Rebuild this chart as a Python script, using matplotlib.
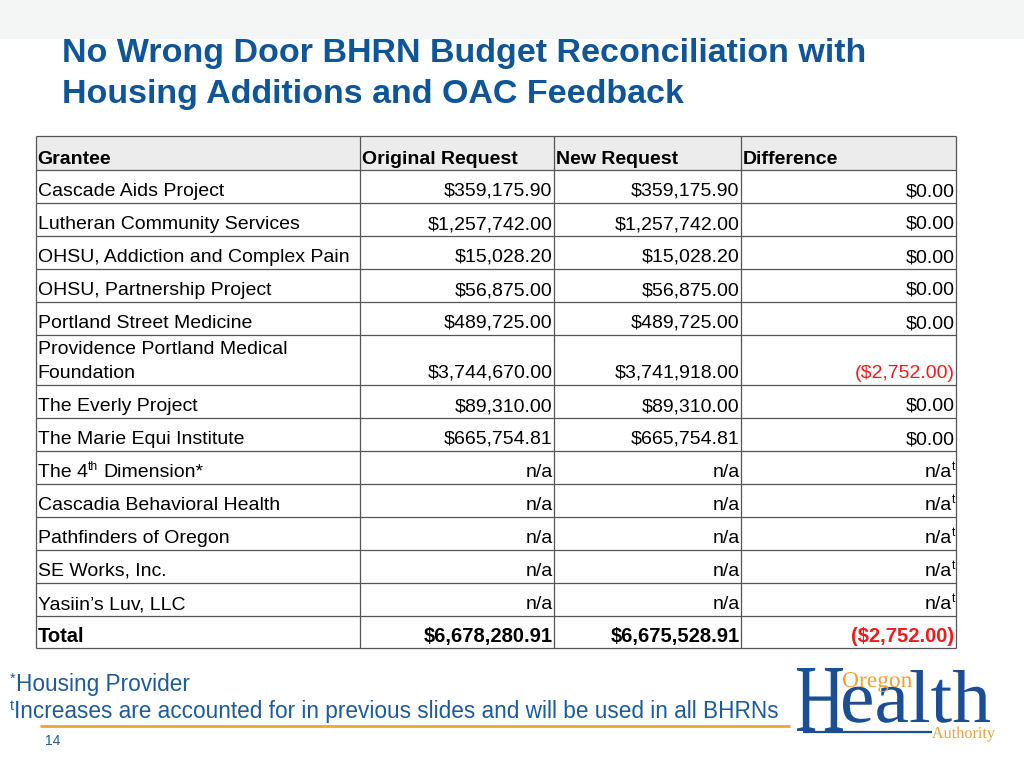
import re
import matplotlib
matplotlib.use('Agg')
import matplotlib.pyplot as plt
from matplotlib import font_manager
from matplotlib.textpath import TextPath
from matplotlib.patches import PathPatch, Rectangle
from matplotlib.transforms import Affine2D

# table content ({..} marks a superscript)
headers = ["Grantee", "Original Request", "New Request", "Difference"]
grantees = ["Cascade Aids Project", "Lutheran Community Services",
            "OHSU, Addiction and Complex Pain", "OHSU, Partnership Project",
            "Portland Street Medicine", "Providence Portland Medical\nFoundation",
            "The Everly Project", "The Marie Equi Institute",
            "The 4{th} Dimension*", "Cascadia Behavioral Health",
            "Pathfinders of Oregon", "SE Works, Inc.", "Yasiin\u2019s Luv, LLC"]
original = [359175.90, 1257742.00, 15028.20, 56875.00, 489725.00, 3744670.00,
            89310.00, 665754.81, None, None, None, None, None]
new_request = [359175.90, 1257742.00, 15028.20, 56875.00, 489725.00, 3741918.00,
               89310.00, 665754.81, None, None, None, None, None]
difference = [0.00, 0.00, 0.00, 0.00, 0.00, -2752.00,
              0.00, 0.00, None, None, None, None, None]
total_label = "Total"
totals = [6678280.91, 6675528.91, -2752.00]

title_lines = ["No Wrong Door BHRN Budget Reconciliation with",
               "Housing Additions and OAC Feedback"]
notes = ["{*}Housing Provider",
         "{t}Increases are accounted for in previous slides and will be used in all BHRNs"]
page_no = "14"

BLUE = '#0f5597'
NOTE_BLUE = '#1d5b9b'
RED = '#ee1c1c'
LINE = '#555555'

plt.rcParams['font.family'] = ['Liberation Sans', 'DejaVu Sans']


def money(v):
    if v < 0:
        return f"(${-v:,.2f})"
    return f"${v:,.2f}"


fig = plt.figure(figsize=(10.24, 7.68), dpi=100)
ax = fig.add_axes([0, 0, 1, 1])
ax.set_xlim(0, 1024)
ax.set_ylim(768, 0)
ax.axis('off')
renderer = fig.canvas.get_renderer()


def rich(x, y, s, size, ha='left', **kw):
    # draws text with {..} superscripts; x/y in pixels, y is the baseline
    parts = re.split(r'\{(.*?)\}', s)
    em = size * 100 / 72
    items = [(p, i % 2 == 1) for i, p in enumerate(parts) if p]
    if ha == 'right':
        items = items[::-1]
    for p, sup in items:
        fs = size * 0.62 if sup else size
        yy = y - 0.36 * em if sup else y
        lead = len(p) - len(p.lstrip(' '))
        trail = len(p) - len(p.rstrip(' '))
        p = p.strip(' ')
        if ha == 'left':
            x += lead * 0.278 * fs * 100 / 72
            t = ax.text(x, yy, p, fontsize=fs, ha='left', va='baseline', **kw)
            x = t.get_window_extent(renderer).x1 + trail * 0.278 * fs * 100 / 72
        else:
            x -= trail * 0.278 * fs * 100 / 72
            t = ax.text(x, yy, p, fontsize=fs, ha='right', va='baseline', **kw)
            x = t.get_window_extent(renderer).x0 - lead * 0.278 * fs * 100 / 72


def fitted_text(s, x0, x1, base, height, ref, family, color):
    # text path squeezed to a width and to the height of a reference glyph (logo)
    fp = font_manager.FontProperties(family=family)
    tp = TextPath((0, 0), s, size=1, prop=fp)
    top = TextPath((0, 0), ref, size=1, prop=fp).get_extents().y1
    ext = tp.get_extents()
    sx = (x1 - x0) / ext.width
    sy = height / top
    tr = Affine2D().translate(-ext.x0, 0).scale(sx, -sy).translate(x0, base) + ax.transData
    ax.add_patch(PathPatch(tp, transform=tr, fc=color, ec='none'))


# top band and title
ax.add_patch(Rectangle((0, 0), 1024, 39, fc='#f4f6f6', ec='none'))
ax.text(62, 62, title_lines[0], fontsize=24.5, fontweight='bold', color=BLUE, va='baseline')
ax.text(62, 103, title_lines[1], fontsize=24.5, fontweight='bold', color=BLUE, va='baseline')

# table layout
cols = [36, 360, 554, 741, 956]
rows = [136, 170, 203, 236, 269, 302, 335, 385, 418, 451, 484, 517, 550, 583, 616, 648]
FS = 14

ax.add_patch(Rectangle((cols[0], rows[0]), cols[-1] - cols[0], rows[1] - rows[0],
                       fc='#ececec', ec='none'))
for y in rows:
    ax.plot([cols[0], cols[-1]], [y, y], color=LINE, lw=0.9, solid_capstyle='butt')
for x in cols:
    ax.plot([x, x], [rows[0], rows[-1]], color=LINE, lw=0.9, solid_capstyle='butt')

for j, h in enumerate(headers):
    ax.text(cols[j] + 1.5, rows[1] - 6, h, fontsize=FS, fontweight='bold', va='baseline')

for i, name in enumerate(grantees):
    base = rows[i + 2] - 7
    lines = name.split('\n')
    for k, ln in enumerate(lines):
        rich(cols[0] + 1.5, base - 24 * (len(lines) - 1 - k), ln, FS)
    for j, series in enumerate([original, new_request]):
        v = series[i]
        s = money(v) if v is not None else "n/a"
        ax.text(cols[j + 2] - 1.5, base, s, fontsize=FS, ha='right', va='baseline')
    d = difference[i]
    if d is None:
        rich(cols[4] - 1, base, "n/a{t}", FS, ha='right')
    else:
        ax.text(cols[4] - 1.5, base, money(d), fontsize=FS, ha='right', va='baseline',
                color=RED if d < 0 else 'black')

tb = rows[-1] - 6
ax.text(cols[0] + 1.5, tb, total_label, fontsize=14.5, fontweight='bold', va='baseline')
for j, v in enumerate(totals):
    ax.text(cols[j + 2] - 1.5, tb, money(v), fontsize=14.5, fontweight='bold',
            ha='right', va='baseline', color=RED if v < 0 else 'black')

# footnotes
rich(10, 691, notes[0], 16.3, color=NOTE_BLUE)
rich(10, 718, notes[1], 16.3, color=NOTE_BLUE)
ax.plot([40, 790], [726, 726], color='#f0a23c', lw=2, solid_capstyle='butt')
ax.text(45, 745, page_no, fontsize=10, color=NOTE_BLUE, va='baseline')

# logo
LOGO_BLUE = '#1b4e92'
LOGO_ORANGE = '#eaa33c'
fitted_text("H", 797, 843, 731, 63, 'H', 'Liberation Serif', LOGO_BLUE)
fitted_text("ealth", 843, 990, 722, 52, 'l', 'Liberation Serif', LOGO_BLUE)
ax.plot([803, 932], [731.5, 731.5], color=LOGO_BLUE, lw=1.6, solid_capstyle='butt')
fitted_text("Oregon", 843, 912, 687, 15, 'O', 'Liberation Serif', LOGO_ORANGE)
fitted_text("Authority", 932, 995, 738, 11, 'A', 'Liberation Serif', LOGO_ORANGE)

fig.savefig('out.png', dpi=100)
